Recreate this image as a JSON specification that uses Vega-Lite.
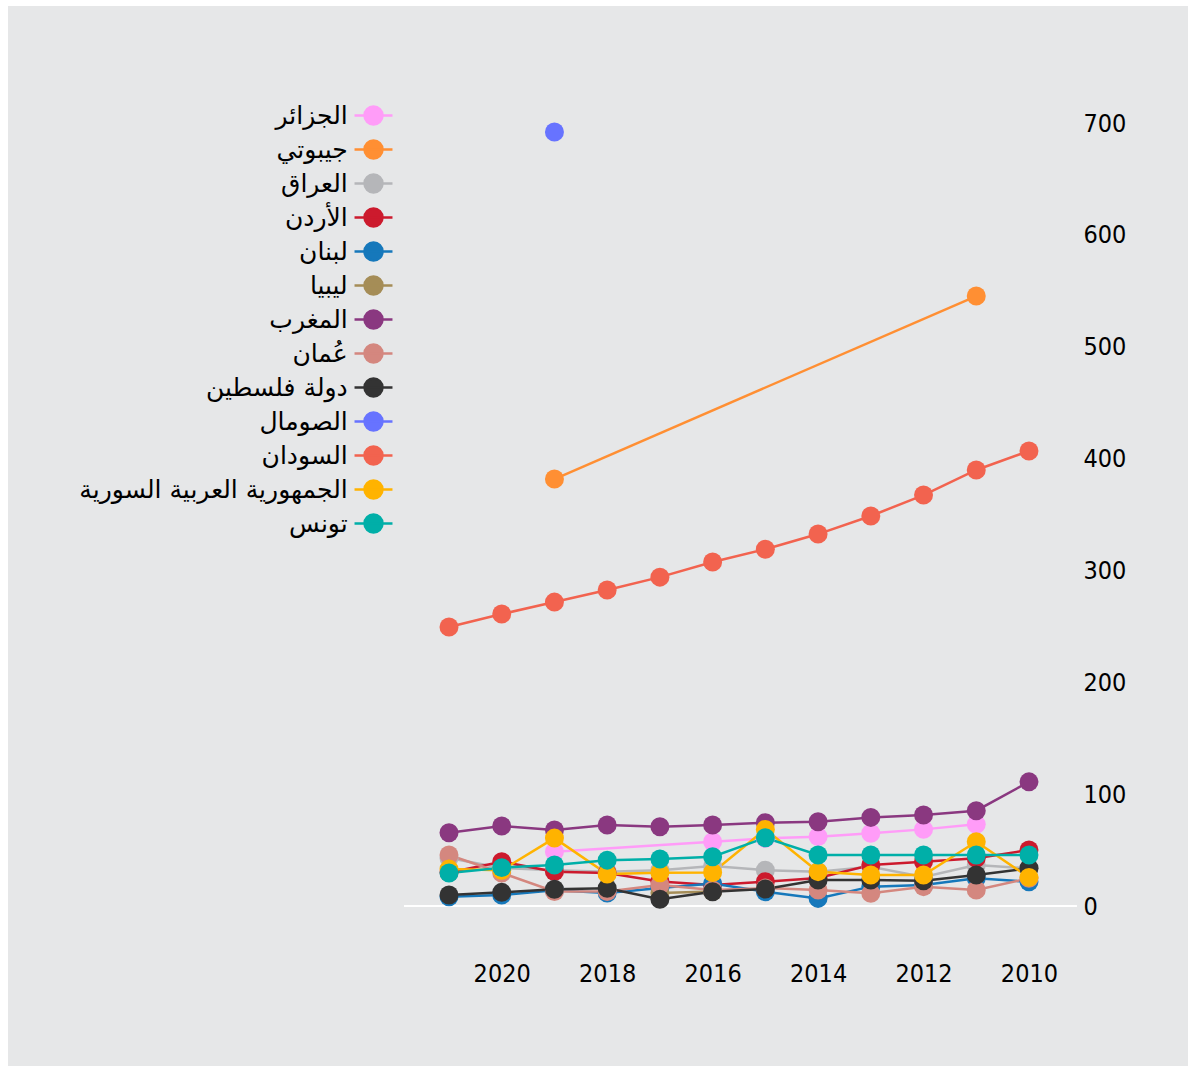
{
  "$schema": "https://vega.github.io/schema/vega-lite/v6.json",
  "width": 1180,
  "height": 1060,
  "autosize": {"type": "none"},
  "padding": {"left": 8, "top": 6, "right": 8, "bottom": 5},
  "background": "white",
  "config": {
    "view": {"fill": "#e6e7e8", "stroke": null},
    "axis": {"grid": false, "domain": false, "ticks": false, "tickSize": 0, "labelColor": "#000", "labelFont": "Liberation Sans Narrow, DejaVu Sans Condensed, sans-serif", "labelFontSize": 25, "title": null}
  },
  "data": {
    "values": [
      {"country": "الجزائر", "year": 2019, "value": 48.5},
      {"country": "الجزائر", "year": 2016, "value": 57.5},
      {"country": "الجزائر", "year": 2015, "value": 60.5},
      {"country": "الجزائر", "year": 2014, "value": 62},
      {"country": "الجزائر", "year": 2013, "value": 65},
      {"country": "الجزائر", "year": 2012, "value": 68.5},
      {"country": "الجزائر", "year": 2011, "value": 73},
      {"country": "جيبوتي", "year": 2019, "value": 381.7},
      {"country": "جيبوتي", "year": 2011, "value": 545.3},
      {"country": "العراق", "year": 2021, "value": 43},
      {"country": "العراق", "year": 2020, "value": 34},
      {"country": "العراق", "year": 2019, "value": 32},
      {"country": "العراق", "year": 2018, "value": 30.7},
      {"country": "العراق", "year": 2017, "value": 32},
      {"country": "العراق", "year": 2016, "value": 35.7},
      {"country": "العراق", "year": 2015, "value": 32},
      {"country": "العراق", "year": 2014, "value": 30.7},
      {"country": "العراق", "year": 2013, "value": 35},
      {"country": "العراق", "year": 2012, "value": 26},
      {"country": "العراق", "year": 2011, "value": 36.6},
      {"country": "العراق", "year": 2010, "value": 33.7},
      {"country": "الأردن", "year": 2021, "value": 30},
      {"country": "الأردن", "year": 2020, "value": 39.6},
      {"country": "الأردن", "year": 2019, "value": 30.7},
      {"country": "الأردن", "year": 2018, "value": 29.5},
      {"country": "الأردن", "year": 2017, "value": 22},
      {"country": "الأردن", "year": 2016, "value": 18.8},
      {"country": "الأردن", "year": 2015, "value": 21.7},
      {"country": "الأردن", "year": 2014, "value": 25},
      {"country": "الأردن", "year": 2013, "value": 36.6},
      {"country": "الأردن", "year": 2012, "value": 39.6},
      {"country": "الأردن", "year": 2011, "value": 42.6},
      {"country": "الأردن", "year": 2010, "value": 50},
      {"country": "لبنان", "year": 2021, "value": 8.3},
      {"country": "لبنان", "year": 2020, "value": 9.8},
      {"country": "لبنان", "year": 2019, "value": 14},
      {"country": "لبنان", "year": 2018, "value": 11.6},
      {"country": "لبنان", "year": 2017, "value": 16},
      {"country": "لبنان", "year": 2016, "value": 20},
      {"country": "لبنان", "year": 2015, "value": 12.8},
      {"country": "لبنان", "year": 2014, "value": 6.8},
      {"country": "لبنان", "year": 2013, "value": 17.3},
      {"country": "لبنان", "year": 2012, "value": 18.8},
      {"country": "لبنان", "year": 2011, "value": 24.7},
      {"country": "لبنان", "year": 2010, "value": 21.7},
      {"country": "ليبيا", "year": 2017, "value": 11.6},
      {"country": "ليبيا", "year": 2016, "value": 13},
      {"country": "المغرب", "year": 2021, "value": 65.5},
      {"country": "المغرب", "year": 2020, "value": 71.5},
      {"country": "المغرب", "year": 2019, "value": 68},
      {"country": "المغرب", "year": 2018, "value": 72.4},
      {"country": "المغرب", "year": 2017, "value": 70.9},
      {"country": "المغرب", "year": 2016, "value": 72.4},
      {"country": "المغرب", "year": 2015, "value": 74.5},
      {"country": "المغرب", "year": 2014, "value": 75.3},
      {"country": "المغرب", "year": 2013, "value": 79.2},
      {"country": "المغرب", "year": 2012, "value": 81.3},
      {"country": "المغرب", "year": 2011, "value": 85.2},
      {"country": "المغرب", "year": 2010, "value": 111},
      {"country": "عُمان", "year": 2021, "value": 45.6},
      {"country": "عُمان", "year": 2020, "value": 29.5},
      {"country": "عُمان", "year": 2019, "value": 13},
      {"country": "عُمان", "year": 2018, "value": 13},
      {"country": "عُمان", "year": 2017, "value": 18.8},
      {"country": "عُمان", "year": 2016, "value": 14.3},
      {"country": "عُمان", "year": 2015, "value": 16},
      {"country": "عُمان", "year": 2014, "value": 14.3},
      {"country": "عُمان", "year": 2013, "value": 11.3},
      {"country": "عُمان", "year": 2012, "value": 17.3},
      {"country": "عُمان", "year": 2011, "value": 14.3},
      {"country": "عُمان", "year": 2010, "value": 24.7},
      {"country": "دولة فلسطين", "year": 2021, "value": 9.8},
      {"country": "دولة فلسطين", "year": 2020, "value": 12.2},
      {"country": "دولة فلسطين", "year": 2019, "value": 15},
      {"country": "دولة فلسطين", "year": 2018, "value": 15.8},
      {"country": "دولة فلسطين", "year": 2017, "value": 6},
      {"country": "دولة فلسطين", "year": 2016, "value": 12.8},
      {"country": "دولة فلسطين", "year": 2015, "value": 15.2},
      {"country": "دولة فلسطين", "year": 2014, "value": 23.2},
      {"country": "دولة فلسطين", "year": 2013, "value": 23.2},
      {"country": "دولة فلسطين", "year": 2012, "value": 22.6},
      {"country": "دولة فلسطين", "year": 2011, "value": 27.7},
      {"country": "دولة فلسطين", "year": 2010, "value": 33.7},
      {"country": "الصومال", "year": 2019, "value": 692},
      {"country": "السودان", "year": 2021, "value": 249.4},
      {"country": "السودان", "year": 2020, "value": 261},
      {"country": "السودان", "year": 2019, "value": 271.7},
      {"country": "السودان", "year": 2018, "value": 282.5},
      {"country": "السودان", "year": 2017, "value": 294},
      {"country": "السودان", "year": 2016, "value": 307.5},
      {"country": "السودان", "year": 2015, "value": 319},
      {"country": "السودان", "year": 2014, "value": 332.5},
      {"country": "السودان", "year": 2013, "value": 348.7},
      {"country": "السودان", "year": 2012, "value": 367.4},
      {"country": "السودان", "year": 2011, "value": 389.8},
      {"country": "السودان", "year": 2010, "value": 406.8},
      {"country": "الجمهورية العربية السورية", "year": 2021, "value": 33},
      {"country": "الجمهورية العربية السورية", "year": 2020, "value": 32},
      {"country": "الجمهورية العربية السورية", "year": 2019, "value": 60.7},
      {"country": "الجمهورية العربية السورية", "year": 2018, "value": 28.6},
      {"country": "الجمهورية العربية السورية", "year": 2017, "value": 29.8},
      {"country": "الجمهورية العربية السورية", "year": 2016, "value": 29.9},
      {"country": "الجمهورية العربية السورية", "year": 2015, "value": 68.5},
      {"country": "الجمهورية العربية السورية", "year": 2014, "value": 30.7},
      {"country": "الجمهورية العربية السورية", "year": 2013, "value": 27.7},
      {"country": "الجمهورية العربية السورية", "year": 2012, "value": 27.7},
      {"country": "الجمهورية العربية السورية", "year": 2011, "value": 57.5},
      {"country": "الجمهورية العربية السورية", "year": 2010, "value": 25.6},
      {"country": "تونس", "year": 2021, "value": 29.5},
      {"country": "تونس", "year": 2020, "value": 34.3},
      {"country": "تونس", "year": 2019, "value": 36.6},
      {"country": "تونس", "year": 2018, "value": 41},
      {"country": "تونس", "year": 2017, "value": 42},
      {"country": "تونس", "year": 2016, "value": 44},
      {"country": "تونس", "year": 2015, "value": 61},
      {"country": "تونس", "year": 2014, "value": 45.6},
      {"country": "تونس", "year": 2013, "value": 45.6},
      {"country": "تونس", "year": 2012, "value": 45.6},
      {"country": "تونس", "year": 2011, "value": 45.6},
      {"country": "تونس", "year": 2010, "value": 45.6}
    ]
  },
  "encoding": {
    "x": {"field": "year", "type": "quantitative", "scale": {"domain": [2006.984, 2029.364], "reverse": true, "nice": false, "zero": false}, "axis": {"values": [2010, 2012, 2014, 2016, 2018, 2020], "format": "d", "orient": "bottom", "offset": -115, "labelPadding": 10, "labelFlush": false}},
    "y": {"field": "value", "type": "quantitative", "scale": {"domain": [-143.04, 804.6], "nice": false, "zero": false}, "axis": {"values": [0, 100, 200, 300, 400, 500, 600, 700], "orient": "right", "offset": -113, "labelPadding": 8, "labelAlign": "left"}}
  },
  "layer": [
    {
      "mark": {"type": "rule", "color": "white", "strokeWidth": 2},
      "encoding": {"x": {"datum": 2021.85, "type": "quantitative"}, "x2": {"datum": 2009.1}, "y": {"datum": 0, "type": "quantitative"}}
    },
    {
      "mark": {"type": "line"},
      "encoding": {
        "color": {"field": "country", "type": "nominal", "sort": null,
          "scale": {
            "domain": ["الجزائر", "جيبوتي", "العراق", "الأردن", "لبنان", "ليبيا", "المغرب", "عُمان", "دولة فلسطين", "الصومال", "السودان", "الجمهورية العربية السورية", "تونس"],
            "range": ["#ff9cf8", "#ff8f33", "#b5b6b9", "#cc1a2d", "#1678bb", "#a58d57", "#8a3880", "#d4877f", "#333333", "#6773ff", "#f2634f", "#ffb300", "#00afa8"]
          },
          "legend": {
            "orient": "none", "legendX": 346, "legendY": 90, "title": null, "padding": 0,
            "symbolType": "M -1.04 0 L 1.04 0 M 0.493 0 A 0.493 0.493 0 1 1 -0.493 0 A 0.493 0.493 0 1 1 0.493 0 Z",
            "symbolSize": 1332, "symbolStrokeWidth": 2.2,
            "labelAlign": "right", "labelOffset": -45.25, "labelFont": "DejaVu Sans", "labelFontSize": 25, "labelColor": "#000", "labelLimit": 0,
            "rowPadding": 0,
            "values": ["الجزائر", "جيبوتي", "العراق", "الأردن", "لبنان", "ليبيا", "المغرب", "عُمان", "دولة فلسطين", "الصومال", "السودان", "الجمهورية العربية السورية", "تونس"],
            "encode": {
              "symbols": {"update": {"fill": {"scale": "color", "field": "value"}, "stroke": {"scale": "color", "field": "value"}, "opacity": {"value": 1}, "fillOpacity": {"value": 1}}}
            }
          }
        },
        "strokeWidth": {"field": "country", "type": "nominal", "legend": null,
          "scale": {"domain": ["الجزائر", "جيبوتي", "العراق", "الأردن", "لبنان", "ليبيا", "المغرب", "عُمان", "دولة فلسطين", "الصومال", "السودان", "الجمهورية العربية السورية", "تونس"],
            "range": [2.5, 2.5, 2.5, 1.3, 2.5, 2.5, 2.5, 2.5, 2.5, 2.5, 2.5, 2.5, 2.5]}}
      }
    },
    {
      "mark": {"type": "point", "filled": true, "opacity": 1, "size": 360},
      "encoding": {
        "color": {"field": "country", "type": "nominal", "sort": null}
      }
    }
  ]
}
